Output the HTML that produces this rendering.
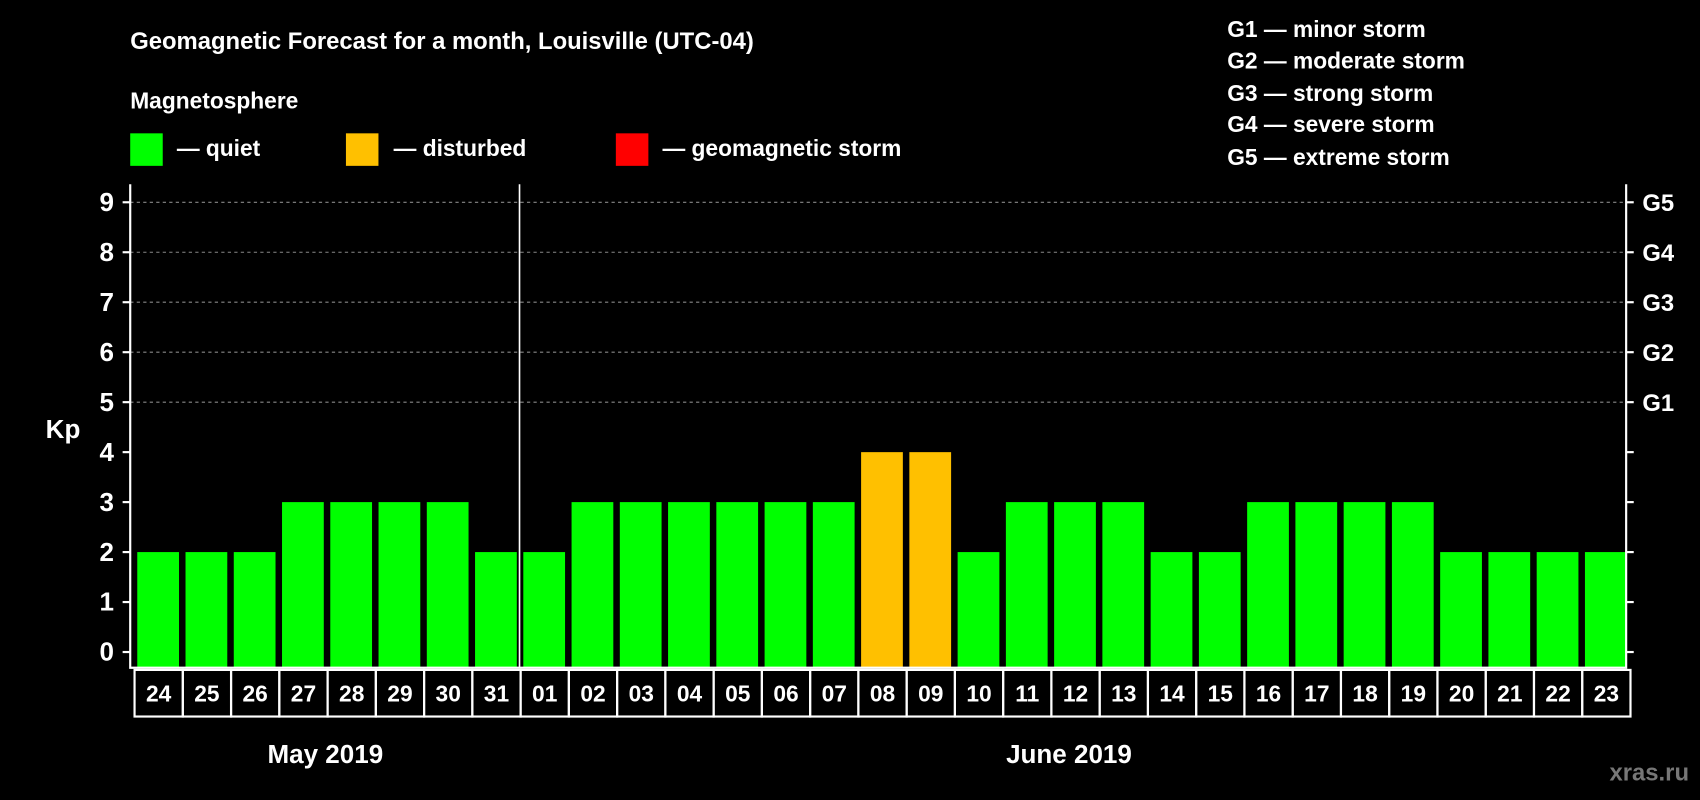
<!DOCTYPE html>
<html><head><meta charset="utf-8"><style>
html,body{margin:0;padding:0;background:#000;}
svg{display:block;font-family:"Liberation Sans",Arial,sans-serif;font-weight:bold;}
</style></head><body>
<svg id="c" width="1700" height="800" viewBox="0 0 1568 738" xmlns="http://www.w3.org/2000/svg">
<rect width="1568" height="738" fill="#000"/>
<text x="120" y="45" fill="#fff" font-size="22">Geomagnetic Forecast for a month, Louisville (UTC-04)</text>
<text x="120" y="100" fill="#fff" font-size="21">Magnetosphere</text>
<g><rect x="120" y="123" width="30" height="30" fill="#00ff00"/><text x="163" y="144" fill="#fff" font-size="21">— quiet</text></g>
<g><rect x="319" y="123" width="30" height="30" fill="#ffc000"/><text x="363" y="144" fill="#fff" font-size="21">— disturbed</text></g>
<g><rect x="568" y="123" width="30" height="30" fill="#ff0000"/><text x="611" y="144" fill="#fff" font-size="21">— geomagnetic storm</text></g>
<g fill="#fff" font-size="21">
<text x="1132" y="34">G1 — minor storm</text><text x="1132" y="63">G2 — moderate storm</text><text x="1132" y="93">G3 — strong storm</text><text x="1132" y="122">G4 — severe storm</text><text x="1132" y="152">G5 — extreme storm</text>
</g>
<text x="58" y="404" fill="#fff" font-size="24" text-anchor="middle">Kp</text>
<text x="300" y="704" fill="#fff" font-size="24" text-anchor="middle">May 2019</text>
<text x="986" y="704" fill="#fff" font-size="24" text-anchor="middle">June 2019</text>
<text x="1558" y="720" fill="#777" font-size="22" text-anchor="end">xras.ru</text>
<g id="plot"></g>
</svg>
<script>
const days=["24","25","26","27","28","29","30","31","01","02","03","04","05","06","07","08","09","10","11","12","13","14","15","16","17","18","19","20","21","22","23"];
const kp=[2,2,2,3,3,3,3,2,2,3,3,3,3,3,3,4,4,2,3,3,3,2,2,3,3,3,3,2,2,2,2];
const yTicks=[0,1,2,3,4,5,6,7,8,9];
const gLabels=[[5,"G1"],[6,"G2"],[7,"G3"],[8,"G4"],[9,"G5"]];
const L=120,R=1500,TOP=170,BOT=616,Y0=601.5,U=46.1;
const pitch=(R-L)/days.length;
const y=v=>Y0-v*U, x=i=>L+i*pitch;
const NS="http://www.w3.org/2000/svg",g=document.getElementById('plot');
function mk(t,a,p){const e=document.createElementNS(NS,t);for(const k in a)e.setAttribute(k,a[k]);(p||g).appendChild(e);return e;}
gLabels.forEach(([v,l])=>{
 const ln=mk('line',{x1:L,x2:R,y1:y(v),y2:y(v),stroke:'#888','stroke-dasharray':'3,3'});
 
 
 const t=mk('text',{x:1515,y:y(v)+8,fill:'#fff','font-size':22});t.textContent=l;
 
 
});
kp.forEach((v,i)=>{
 const r=mk('rect',{x:x(i)+6.5,y:y(v),width:pitch-6,height:Y0+14.5-y(v),fill:v>=5?'#ff0000':v>=4?'#ffc000':'#00ff00'});
 
 
 const c=mk('rect',{x:x(i)+4,y:BOT+2,width:pitch,height:43,fill:'none',stroke:'#fff','stroke-width':2});
 
 
 const t=mk('text',{x:x(i)+4+pitch/2,y:BOT+31,fill:'#fff','font-size':21,'text-anchor':'middle'});t.textContent=days[i];
 
 
});
yTicks.forEach(v=>{
 mk('line',{x1:L-7,x2:L,y1:y(v),y2:y(v),stroke:'#fff','stroke-width':2});
 mk('line',{x1:R,x2:R+7,y1:y(v),y2:y(v),stroke:'#fff','stroke-width':2});
 const t=mk('text',{x:105,y:y(v)+8,fill:'#fff','font-size':24,'text-anchor':'end'});t.textContent=v;
 
 
});
const ax=mk('path',{d:`M${L} ${TOP}V${BOT}H${R}V${TOP}`,fill:'none',stroke:'#fff','stroke-width':2});


const sep=mk('line',{x1:x(8)+3,x2:x(8)+3,y1:TOP,y2:BOT,stroke:'#fff','stroke-width':1.5});


</script>
</body></html>
